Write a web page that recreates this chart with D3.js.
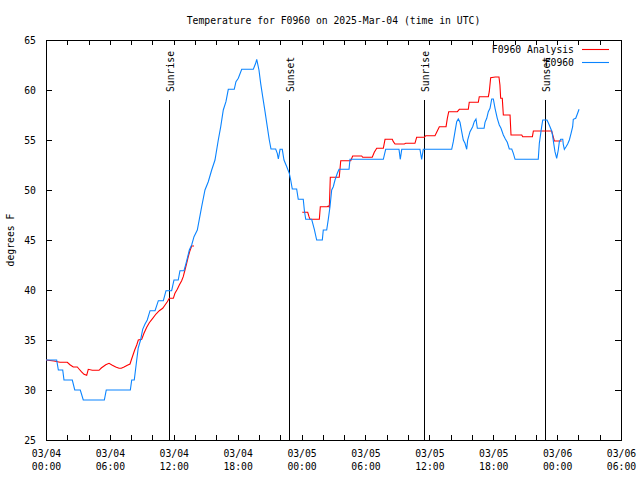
<!DOCTYPE html>
<html><head><meta charset="utf-8">
<script src="https://cdn.jsdelivr.net/npm/d3@7"></script>
<style>
html,body{margin:0;padding:0;background:#fff;}
text{font-family:'DejaVu Sans Mono',monospace;font-size:9.75px;fill:#000;}
</style></head>
<body><svg id="c" width="640" height="480"></svg>
<script>
// ---- data (hours after 2025-03-04 00:00 UTC) ----
const title = "Temperature for F0960 on 2025-Mar-04 (time in UTC)";
const yLabel = "degrees F";
const seriesNames = ["F0960 Analysis", "F0960"];
const seriesColors = ["#ff0000", "#0a84ff"];

const obsHours = [0,1.0,1.16,1.57,1.69,2.47,2.70,3.22,3.50,5.48,5.66,7.92,8.05,8.29,8.52,8.66,8.88,9.08,9.30,9.51,9.77,10.24,10.55,11.02,11.27,11.80,12.02,12.42,12.58,12.96,13.15,13.31,13.46,13.68,13.90,14.21,14.62,14.93,15.24,15.56,15.87,16.18,16.41,16.65,16.90,17.12,17.68,17.84,18.06,18.38,19.47,19.69,19.79,20.00,20.16,20.35,20.57,20.78,20.97,21.13,21.57,21.72,21.82,21.98,22.19,22.35,22.61,22.85,22.98,23.13,23.54,23.69,24.16,24.26,24.39,24.95,25.20,25.42,25.95,26.04,26.36,26.51,26.67,26.83,26.98,27.14,27.36,27.52,28.46,28.55,31.68,31.90,33.15,33.27,33.41,35.12,35.28,35.43,38.10,38.25,38.41,38.57,38.72,38.88,39.04,39.19,39.35,39.51,39.60,39.82,40.07,40.22,40.38,40.51,41.14,41.23,41.39,41.54,41.70,41.86,42.01,42.17,42.38,42.57,42.73,42.95,43.14,43.32,43.51,43.74,43.89,44.05,46.23,46.33,46.46,46.55,46.65,47.05,47.17,47.33,47.49,47.59,47.68,47.80,47.96,48.11,48.21,48.34,48.53,48.58,48.68,48.84,48.99,49.15,49.31,49.46,49.52,49.75,49.90,50.06];
const obsTemps = [33.0,33.0,32.0,32.0,31.0,31.0,30.0,30.0,29.0,29.0,30.0,30.0,31.0,31.0,33.0,34.2,35.0,36.07,36.6,37.0,37.93,37.93,38.93,38.93,39.93,39.93,41.0,41.0,41.93,41.93,42.67,43.33,44.0,44.5,45.33,46.0,48.33,50.0,50.83,52.0,53.0,55.0,56.33,58.0,58.83,60.07,60.07,60.83,61.17,62.07,62.07,62.67,63.07,62.0,60.67,59.33,57.83,56.33,55.0,54.1,54.1,53.67,53.1,54.07,54.07,53.0,52.33,51.67,51.0,50.1,50.1,49.07,49.07,48.0,47.07,47.07,46.07,45.0,45.0,46.0,46.0,47.07,48.33,50.0,50.33,51.0,51.67,52.07,52.07,53.07,53.07,54.07,54.07,53.07,54.07,54.07,53.07,54.07,54.07,54.83,55.83,56.83,57.1,56.77,55.83,55.0,54.67,54.07,55.0,55.83,56.33,56.83,57.1,56.17,56.17,56.77,57.17,57.83,58.17,59.1,59.1,58.17,57.17,56.5,56.17,55.5,55.1,54.77,54.1,54.1,53.67,53.07,53.07,54.67,55.67,56.33,57.0,57.0,56.73,56.33,55.9,55.33,54.67,53.83,53.17,54.0,54.83,55.07,55.07,54.57,54.07,54.33,54.6,55.0,55.67,56.33,57.07,57.17,57.6,58.07];

const anaHours = [0,0.75,1.31,2.0,2.25,2.56,2.94,3.10,3.32,3.57,3.82,3.97,4.35,4.98,5.19,5.61,5.92,6.23,6.55,6.86,7.07,7.33,7.64,7.89,8.01,8.17,8.33,8.52,8.67,8.99,9.20,9.46,9.70,10.02,10.33,10.64,10.96,11.18,11.39,11.58,11.96,12.11,12.33,12.52,12.74,12.89,13.05,13.21,13.36,13.52,13.68,13.90,
  19.0,
  24.07,24.58,24.70,24.79,25.67,25.76,26.42,26.51,26.61,26.70,27.54,27.68,28.62,28.80,29.65,29.74,30.64,30.83,31.06,31.68,31.84,32.52,32.62,32.78,33.65,33.78,34.65,34.81,35.53,35.66,36.53,36.69,36.94,37.57,37.69,37.82,38.63,38.82,39.66,39.75,40.60,40.69,41.54,41.63,41.76,42.19,42.54,42.63,42.70,42.85,42.95,43.58,43.67,44.68,44.77,45.68,45.77,47.49,47.74,48.43];
const anaTemps = [33.0,32.9,32.77,32.77,32.53,32.3,32.3,32.1,31.83,31.57,31.47,32.07,31.97,31.97,32.2,32.53,32.67,32.47,32.3,32.17,32.17,32.3,32.47,32.6,33.0,33.5,34.0,34.5,35.0,35.07,35.67,36.27,36.73,37.17,37.6,37.93,38.17,38.5,38.83,39.17,39.17,39.67,40.07,40.5,40.93,41.33,42.0,42.67,43.33,43.93,44.4,44.4,
  null,
  47.77,47.77,47.33,47.07,47.07,48.33,48.33,48.4,48.27,51.27,51.27,52.93,52.93,53.4,53.4,53.27,53.27,53.77,54.17,54.17,55.07,55.07,54.83,54.6,54.6,54.67,54.67,55.27,55.27,55.43,55.43,55.77,56.33,56.33,57.17,57.83,57.83,58.07,58.07,58.77,58.77,59.33,59.33,59.83,61.23,61.3,61.3,60.5,59.17,59.17,57.5,57.5,55.5,55.5,55.33,55.33,55.9,55.9,54.9,54.9];

const sunLabels = ["Sunrise","Sunset","Sunrise","Sunset"];
const sunHours = [11.58, 22.85, 35.53, 46.89];

const yTicks = [25,30,35,40,45,50,55,60,65];
const xMinorStepHours = 2;
const xLabelStepHours = 6;
const xSpanHours = 54;

// ---- layout ----
const L = 46, R = 621, T = 40, B = 440;
const t0 = Date.UTC(2025,2,4,0,0);
const toDate = h => new Date(t0 + h*3600e3);

const svg = d3.select("#c");
const x = d3.scaleUtc().domain([toDate(0), toDate(xSpanHours)]).range([L, R]);
const y = d3.scaleLinear().domain([25,65]).range([B, T]);

const tickDates = d3.range(0, xSpanHours + 0.001, xMinorStepHours).map(toDate);
const fmtD = d3.utcFormat("%m/%d"), fmtT = d3.utcFormat("%H:%M");
const isLabel = d => ((d - t0)/3600e3) % xLabelStepHours === 0;

// bottom axis
const gb = svg.append("g").attr("transform", `translate(0,${B})`)
  .call(d3.axisBottom(x).tickValues(tickDates).tickSizeInner(-5).tickSizeOuter(0).tickPadding(10)
    .tickFormat(d => isLabel(d) ? fmtD(d) : ""));
gb.select(".domain").remove();
gb.selectAll(".tick text").each(function(d){
  const t = d3.select(this);
  if (!isLabel(d)) return;
  t.text(null);
  t.append("tspan").attr("x",0).attr("dy","0.71em").text(fmtD(d));
  t.append("tspan").attr("x",0).attr("dy","13px").text(fmtT(d));
});
// top axis (mirror)
const gt = svg.append("g").attr("transform", `translate(0,${T})`)
  .call(d3.axisTop(x).tickValues(tickDates).tickSizeInner(-5).tickSizeOuter(0).tickFormat(""));
gt.select(".domain").remove();
// left axis
const gl = svg.append("g").attr("transform", `translate(${L},0)`)
  .call(d3.axisLeft(y).tickValues(yTicks).tickSizeInner(-6).tickSizeOuter(0).tickPadding(10).tickFormat(d3.format("d")));
gl.select(".domain").remove();
// right axis
const gr = svg.append("g").attr("transform", `translate(${R},0)`)
  .call(d3.axisRight(y).tickValues(yTicks).tickSizeInner(-6).tickSizeOuter(0).tickFormat(""));
gr.select(".domain").remove();
svg.selectAll(".tick line").attr("stroke","#000").attr("shape-rendering","crispEdges");
svg.selectAll(".tick text").attr("font-family",null).attr("font-size",null);

// frame
svg.append("rect").attr("x",L).attr("y",T).attr("width",R-L).attr("height",B-T)
  .attr("fill","none").attr("stroke","#000").attr("stroke-width",1).attr("shape-rendering","crispEdges");

// sunrise / sunset markers
const sunTop = B - 0.85*(B-T), sunLabEnd = B - 0.87*(B-T);
sunHours.forEach((h,i) => {
  const xx = Math.round(x(toDate(h))) + 0.5;
  svg.append("line").attr("x1",xx).attr("x2",xx).attr("y1",sunTop).attr("y2",B)
    .attr("stroke","#000").attr("stroke-width",1);
  svg.append("text").attr("transform",`translate(${xx+4.5},${sunLabEnd}) rotate(-90)`)
    .attr("text-anchor","start").text(sunLabels[i]);
});

// series
const line = d3.line().defined(d => d[1] !== null)
  .x(d => x(toDate(d[0]))).y(d => y(d[1]));
const ana = anaHours.map((h,i) => [h, anaTemps[i]]);
const obs = obsHours.map((h,i) => [h, obsTemps[i]]);
svg.append("path").datum(ana).attr("d", line).attr("fill","none")
  .attr("stroke", seriesColors[0]).attr("stroke-width",1.1);
svg.append("path").datum(obs).attr("d", line).attr("fill","none")
  .attr("stroke", seriesColors[1]).attr("stroke-width",1.1);

// legend
seriesNames.forEach((n,i) => {
  const yy = 49.5 + i*13;
  svg.append("text").attr("x",574).attr("y",yy+3.5).attr("text-anchor","end").text(n);
  svg.append("line").attr("x1",582).attr("x2",609).attr("y1",yy).attr("y2",yy)
    .attr("stroke",seriesColors[i]).attr("stroke-width",1.1);
});

// title and y label
svg.append("text").attr("x",(L+R)/2).attr("y",24).attr("text-anchor","middle").text(title);
svg.append("text").attr("transform",`translate(14,${(T+B)/2}) rotate(-90)`)
  .attr("text-anchor","middle").text(yLabel);
</script></body></html>
